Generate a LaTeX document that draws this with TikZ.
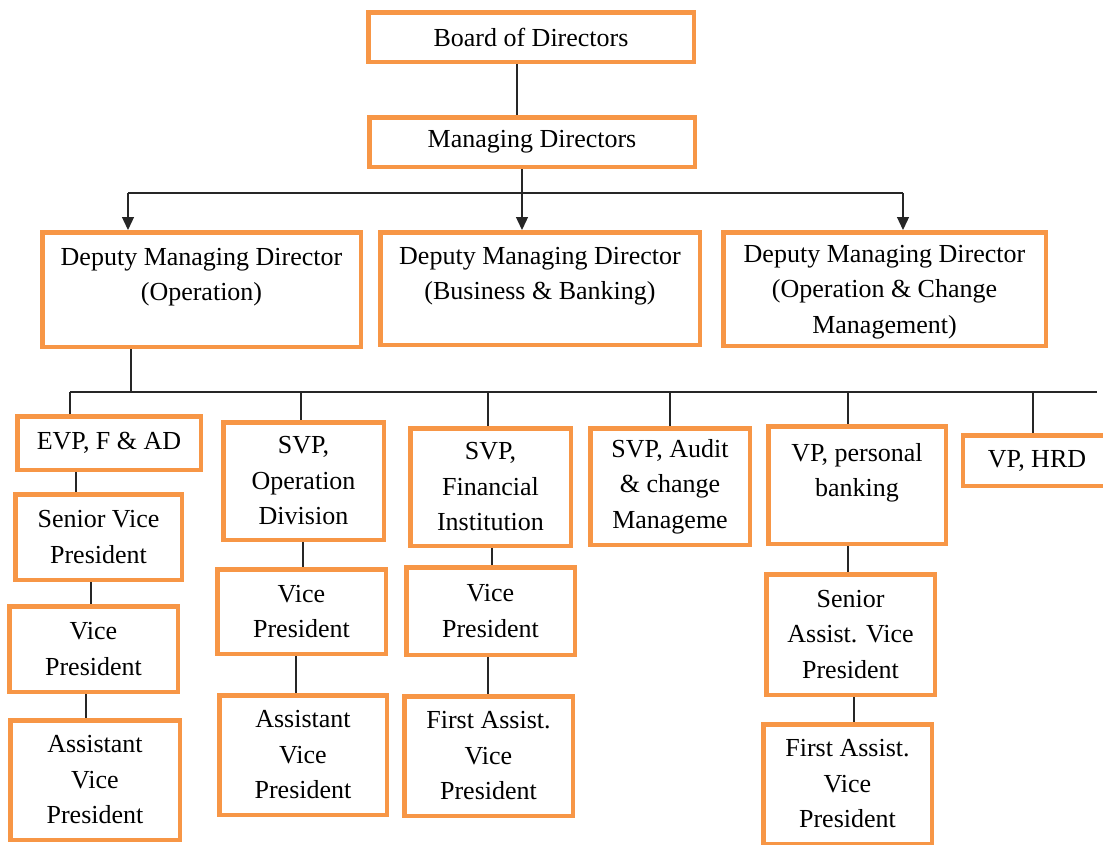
\documentclass[tikz,border=0pt]{standalone}
\usepackage{fontspec}
\setmainfont{Liberation Serif}
\usetikzlibrary{arrows.meta}
\definecolor{boxorange}{HTML}{F79646}

\begin{document}
\begin{tikzpicture}[
x=1pt, y=-1pt,
box/.style={draw=boxorange, line width=4.5pt, fill=white, align=center, inner sep=0pt,
  font=\fontsize{26}{35.5}\selectfont},
link/.style={draw=black!85, line width=1.3pt},
tip/.style={-{Triangle[length=13pt, width=12pt]}},
]
\useasboundingbox (0,0) rectangle (1103,844);

% Top of the chart
\node[box, minimum width=325.5pt, minimum height=49.5pt] (board) at (531,37) {Board of Directors};
\node[box, minimum width=325.5pt, minimum height=49.5pt] (mgr) at (532,142) {Managing Directors};

% Deputy managing directors
\node[box, minimum width=318.5pt, minimum height=114.5pt, text depth=30pt] (dmdop) at (201.5,289.5)
  {Deputy Managing Director\\(Operation)};
\node[box, minimum width=319.5pt, minimum height=112.5pt, text depth=30pt] (dmdbb) at (540,288.5)
  {Deputy Managing Director\\(Business \& Banking)};
\node[box, minimum width=322.5pt, minimum height=113.5pt, text depth=0pt] (dmdoc) at (884.5,289)
  {Deputy Managing Director\\(Operation \& Change\\Management)};

% Heads under the operation deputy
\node[box, minimum width=183.5pt, minimum height=53.5pt] (evp) at (109,443) {EVP, F \& AD};
\node[box, minimum width=160.5pt, minimum height=117.5pt] (svpop) at (303.5,481) {SVP,\\Operation\\Division};
\node[box, minimum width=160.5pt, minimum height=117.5pt] (svpfi) at (490.5,487) {SVP,\\Financial\\Institution};
\node[box, minimum width=159.5pt, minimum height=116.5pt] (svpau) at (670,486.5) {SVP, Audit\\\& change\\Manageme};
\node[box, minimum width=177.5pt, minimum height=117.5pt, text depth=30pt] (vppb) at (857,485) {VP, personal\\banking};
\node[box, minimum width=148pt, minimum height=50.5pt] (vphrd) at (1037,460.5) {VP, HRD};

% Column under EVP
\node[box, minimum width=166.5pt, minimum height=85.5pt] (svp) at (98.5,537) {Senior Vice\\President};
\node[box, minimum width=168.5pt, minimum height=85.5pt] (vpa) at (93.5,649) {Vice\\President};
\node[box, minimum width=169.5pt, minimum height=119.5pt] (avpa) at (95,780) {Assistant\\Vice\\President};

% Column under SVP, operation
\node[box, minimum width=168.5pt, minimum height=84.5pt] (vpb) at (301.5,611.5) {Vice\\President};
\node[box, minimum width=167.5pt, minimum height=119.5pt] (avpb) at (303,755) {Assistant\\Vice\\President};

% Column under SVP, financial institution
\node[box, minimum width=168.5pt, minimum height=87.5pt] (vpc) at (490.5,611) {Vice\\President};
\node[box, minimum width=168.5pt, minimum height=119.5pt] (favc) at (488.5,756) {First Assist.\\Vice\\President};

% Column under VP, personal banking
\node[box, minimum width=168.5pt, minimum height=120.5pt] (savd) at (850.5,634.5) {Senior\\Assist. Vice\\President};
\node[box, minimum width=168.5pt, minimum height=119.5pt] (favd) at (847.5,784) {First Assist.\\Vice\\President};

% Upper connectors
\coordinate (busl) at (128,193);
\coordinate (busr) at (903,193);
\draw[link] (board.south -| 517,0) -- (mgr.north -| 517,0);
\draw[link] (busl) -- (busr);
\draw[link, tip] (mgr.south -| 522,0) -- (dmdbb.north -| 522,0);
\draw[link, tip] (busl) -- (busl |- dmdop.north);
\draw[link, tip] (busr) -- (busr |- dmdoc.north);

% Lower bus
\coordinate (lowl) at (70,392);
\coordinate (lowr) at (1097,392);
\draw[link] (lowl) -- (lowr);
\draw[link] (dmdop.south -| 131,0) -- (131,392);
\foreach \x/\n in {70/evp, 301/svpop, 488/svpfi, 670/svpau, 848/vppb, 1033/vphrd}
  \draw[link] (\x,392) -- (\n.north -| \x,0);

% Columns
\foreach \x/\a/\b in {76/evp/svp, 91/svp/vpa, 86/vpa/avpa, 303/svpop/vpb, 296/vpb/avpb,
  492/svpfi/vpc, 488/vpc/favc, 848/vppb/savd, 854/savd/favd}
  \draw[link] (\a.south -| \x,0) -- (\b.north -| \x,0);

\end{tikzpicture}
\end{document}
